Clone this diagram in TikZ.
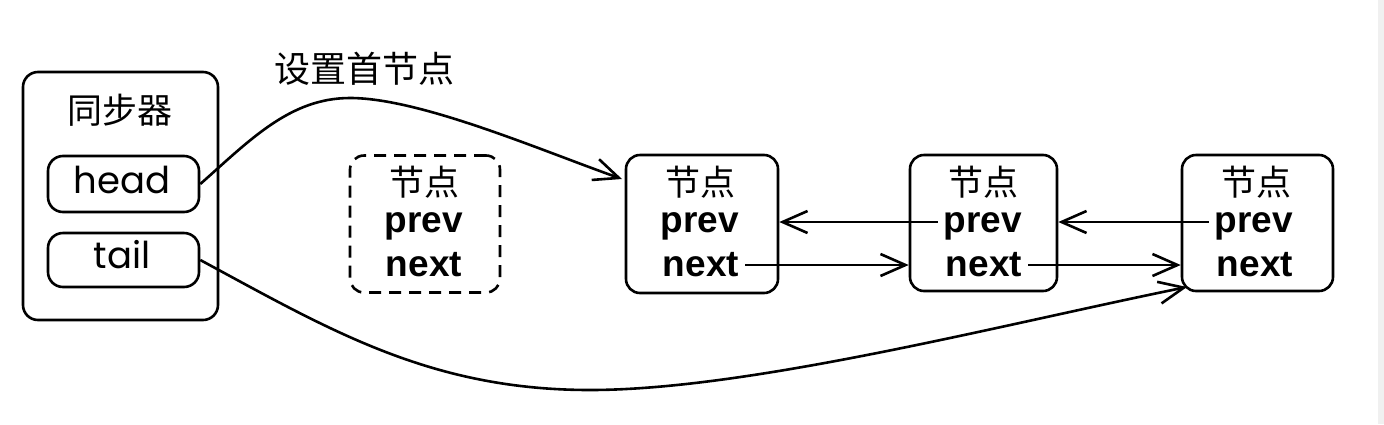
\documentclass[tikz,border=0pt]{standalone}
\usepackage{fontspec}
\setmainfont{Liberation Sans}
\newfontfamily\cjk{Noto Sans CJK SC}
\newfontfamily\geo{Poppins}
\usetikzlibrary{arrows.meta}
\begin{document}
\begin{tikzpicture}[x=1pt,y=-1pt,
  line width=2.6pt,
  nodebox/.style={draw,rounded corners=14pt,minimum width=150pt,minimum height=137pt,inner sep=0pt},
  zh/.style={font=\cjk\fontsize{35}{35}\selectfont,inner sep=0pt},
  en/.style={font=\geo\fontsize{37}{37}\selectfont,inner sep=0pt},
  fld/.style={font=\bfseries\fontsize{37}{37}\selectfont,inner xsep=5pt,inner ysep=0pt,anchor=base},
  arr/.style={-{Straight Barb[length=25pt,width=22pt,line width=2.6pt]}}
]
\useasboundingbox (0,0) rectangle (1384,424);
\fill[black!6] (1378,0) rectangle (1384,424);
% synchronizer
\node[draw,rounded corners=15pt,minimum width=195pt,minimum height=248pt,inner sep=0pt] (sync) at (120.5,196) {};
\node[zh] (synct) at (120,110) {同步器};
\node[draw,rounded corners=15pt,minimum width=151pt,minimum height=56pt,inner sep=0pt] (hd) at (123.5,184) {};
\node[en,anchor=base] (hdt) at (122,193) {head};
\node[draw,rounded corners=15pt,minimum width=151pt,minimum height=54pt,inner sep=0pt] (tl) at (123.5,260) {};
\node[en,anchor=base] (tlt) at (122,268) {tail};
% label
\node[zh,font=\cjk\fontsize{36}{36}\selectfont] (lbl) at (364,69) {设置首节点};
% dashed node
\node[nodebox,dash pattern=on 12pt off 8pt] (n0) at (425,224) {};
\node[zh] (n0t) at (424,182) {节点};
\node[fld] (n0p) at (424,232) {prev};
\node[fld] (n0n) at (424,276) {next};
% node 1
\node[nodebox,minimum width=152pt,minimum height=138pt] (n1) at (702,224) {};
\node[zh] (n1t) at (700,182) {节点};
\node[fld] (n1p) at (700,232) {prev};
\node[fld] (n1n) at (701,276) {next};
% node 2
\node[nodebox,minimum width=147pt,minimum height=136pt] (n2) at (983.5,223) {};
\node[zh] (n2t) at (983,182) {节点};
\node[fld] (n2p) at (983,232) {prev};
\node[fld] (n2n) at (984,276) {next};
% node 3
\node[nodebox,minimum width=151pt,minimum height=136pt] (n3) at (1257.5,223) {};
\node[zh] (n3t) at (1256,182) {节点};
\node[fld] (n3p) at (1254,232) {prev};
\node[fld] (n3n) at (1255,276) {next};
% links
\draw[arr] ([yshift=10pt]n2p.base west) -- ([yshift=10pt]n2p.base west -| n1.east);
\draw[arr] ([yshift=11pt]n1n.base east) -- ([yshift=11pt]n1n.base east -| n2.west);
\draw[arr] ([yshift=10pt]n3p.base west) -- ([yshift=10pt]n3p.base west -| n2.east);
\draw[arr] ([yshift=11pt]n2n.base east) -- ([yshift=11pt]n2n.base east -| n3.west);
% head curve
\coordinate (hpeak) at (350,98);
\coordinate (hend) at (622,179);
\draw[arr] (hd.east) .. controls (250,140) and (290,98) .. (hpeak)
  .. controls (420,98) and (540,150) .. (hend);
% tail curve
\coordinate (tlow) at (590,390);
\coordinate (tend) at (1187,287);
\draw[arr] (tl.east) .. controls (330,330) and (430,390) .. (tlow)
  .. controls (750,390) and (1000,325) .. (tend);
\end{tikzpicture}
\end{document}
